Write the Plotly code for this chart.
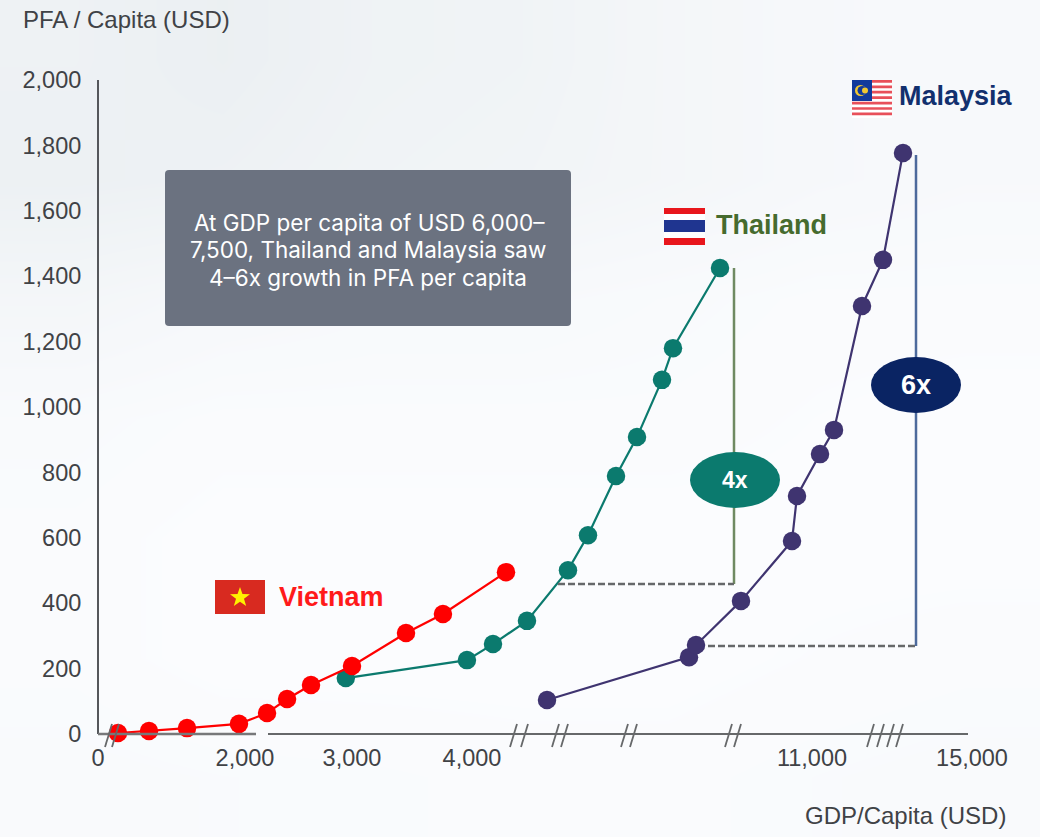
import numpy as np
import plotly.graph_objects as go

# Broken GDP axis: tick values and where each one sits along the axis
tick_usd = [0, 2000, 3000, 4000, 11000, 15000]
tick_labels = ["0", "2,000", "3,000", "4,000", "11,000", "15,000"]
tick_axis_pos = [0, 147, 254, 374, 714, 874]

pfa_ticks = [0, 200, 400, 600, 800, 1000, 1200, 1400, 1600, 1800, 2000]
pfa_labels = ["0", "200", "400", "600", "800", "1,000", "1,200", "1,400", "1,600", "1,800", "2,000"]

vietnam_gdp = [272, 694, 1211, 1918, 2206, 2393, 2617, 3000, 3450, 3758, 4700]
vietnam_pfa = [3, 9, 18, 31, 64, 107, 150, 208, 309, 367, 495]

thailand_gdp = [2942, 3958, 4432, 5132, 5976, 6388, 6965, 7397, 7912, 8138, 9106]
thailand_pfa = [171, 226, 275, 346, 501, 608, 789, 908, 1083, 1180, 1425]

malaysia_gdp = [5544, 8468, 8612, 9538, 10588, 10691, 11200, 11550, 12250, 12775, 13275]
malaysia_pfa = [104, 235, 272, 407, 590, 728, 856, 930, 1309, 1450, 1777]

# Pale backdrop wash, top row first
backdrop_shade = [
    [0.45, 0.35, 0.50, 0.55, 0.70, 0.80, 0.85],
    [0.40, 0.45, 0.55, 0.60, 0.70, 0.80, 0.85],
    [0.70, 0.80, 0.85, 0.85, 0.90, 0.95, 0.95],
    [0.90, 0.95, 0.95, 0.95, 0.95, 0.98, 1.00],
    [0.95, 1.00, 1.00, 1.00, 1.00, 1.00, 1.00],
    [0.95, 1.00, 1.00, 1.00, 1.00, 0.97, 0.95],
    [0.90, 0.92, 0.93, 0.95, 0.95, 0.92, 0.90],
]

W, H = 1040, 837
L, R, T, B = 98, 972, 80, 734
INK = "#404246"


def axis_pos(usd):
    """Map a GDP per capita value onto the broken horizontal axis."""
    return np.interp(usd, tick_usd, tick_axis_pos)


def fx(px):
    return px / W


def fy(py):
    return 1 - py / H


def segment(x0, y0, x1, y1, color, width, dash="solid"):
    return dict(type="line", xref="paper", yref="paper", x0=fx(x0), y0=fy(y0), x1=fx(x1), y1=fy(y1),
                line=dict(color=color, width=width, dash=dash))


def box(x0, y0, x1, y1, color):
    return dict(type="rect", xref="paper", yref="paper", x0=fx(x0), y0=fy(y0), x1=fx(x1), y1=fy(y1),
                fillcolor=color, line=dict(width=0), layer="above")


def label(px, py, text, size, color, anchor="center", bold=False, family="Liberation Sans"):
    return dict(xref="paper", yref="paper", x=fx(px), y=fy(py), text=f"<b>{text}</b>" if bold else text,
                showarrow=False, xanchor=anchor, yanchor="middle",
                font=dict(size=size, color=color, family=family))


fig = go.Figure()

# The wash sits on a full-page hidden axis pair underneath the chart axes
fig.add_trace(go.Heatmap(z=backdrop_shade[::-1], zmin=0, zmax=1, zsmooth="best", showscale=False, hoverinfo="skip",
                         colorscale=[[0, "#e3e9ec"], [1, "#fbfcfe"]]))

series = [
    ("Malaysia", malaysia_gdp, malaysia_pfa, "#3f3470"),
    ("Thailand", thailand_gdp, thailand_pfa, "#0b7a6e"),
    ("Vietnam", vietnam_gdp, vietnam_pfa, "#ff0000"),
]
for name, gdp, pfa, color in series:
    fig.add_trace(go.Scatter(
        x=axis_pos(gdp), y=pfa, name=name, mode="lines+markers", cliponaxis=False, xaxis="x2", yaxis="y2",
        line=dict(color=color, width=2.2), marker=dict(size=18.5, color=color),
    ))

shapes = []

# Rounded callout panel
x0, y0, x1, y1, r = fx(165), fy(170), fx(571), fy(326), 4
rx, ry = r / W, r / H
shapes.append(dict(
    type="path", xref="paper", yref="paper", fillcolor="#6b7280", line=dict(width=0), layer="above",
    path=(f"M {x0+rx} {y0} L {x1-rx} {y0} Q {x1} {y0} {x1} {y0-ry} L {x1} {y1+ry} Q {x1} {y1} {x1-rx} {y1} "
          f"L {x0+rx} {y1} Q {x0} {y1} {x0} {y1+ry} L {x0} {y0-ry} Q {x0} {y0} {x0+rx} {y0} Z"),
))

# Axis lines with the breaks along the GDP axis
shapes.append(segment(98, 80, 98, 734, "#55575b", 2))
shapes.append(segment(98, 734, 256, 734, "#77787a", 2.5))
shapes.append(segment(268, 734, 968, 734, "#66686a", 2))
for sx in [105, 112, 510, 521, 552, 561, 621, 630, 725, 734, 867, 877, 887, 896]:
    shapes.append(segment(sx, 747, sx + 7, 724, "#66686a", 1.8))

# Growth brackets for Thailand and Malaysia
shapes.append(segment(734, 268, 734, 584, "#6f8a62", 2.5))
shapes.append(segment(558, 584, 734, 584, "#66686a", 2.5, "7px,3px"))
shapes.append(segment(916, 155, 916, 646, "#4d6a9c", 2.5))
shapes.append(segment(708, 646, 916, 646, "#66686a", 2.5, "7px,3px"))

for cx, cy, color in [(735, 480, "#0b7a6e"), (916, 385, "#0a2463")]:
    shapes.append(dict(type="circle", xref="paper", yref="paper", x0=fx(cx - 45), x1=fx(cx + 45),
                       y0=fy(cy + 28), y1=fy(cy - 28), fillcolor=color, line=dict(width=0), layer="above"))

# Vietnam flag
shapes.append(box(215, 580, 265, 614, "#d82a20"))
star = []
for i in range(10):
    rad = 10.5 if i % 2 == 0 else 4.2
    ang = -np.pi / 2 + i * np.pi / 5
    star.append((fx(240 + rad * np.cos(ang)), fy(597.5 + rad * np.sin(ang))))
shapes.append(dict(type="path", xref="paper", yref="paper", fillcolor="#fff200", line=dict(width=0), layer="above",
                   path="M " + " L ".join(f"{a} {b}" for a, b in star) + " Z"))

# Thailand flag
for top, bottom, color in [(208, 214, "#e8161c"), (214, 220, "#ffffff"), (220, 232, "#1f3590"),
                           (232, 238, "#ffffff"), (238, 245, "#e8161c")]:
    shapes.append(box(664, top, 705, bottom, color))

# Malaysia flag
shapes.append(box(852, 80, 892, 118, "#ffffff"))
for i in range(7):
    top = 80 + i * 38 / 7
    shapes.append(box(852, top, 892, top + 19 / 7, "#e8505a"))
shapes.append(box(852, 80, 872, 101, "#123a9c"))
shapes.append(dict(type="circle", xref="paper", yref="paper", x0=fx(855), x1=fx(866), y0=fy(96), y1=fy(85),
                   fillcolor="#f2c832", line=dict(width=0), layer="above"))
shapes.append(dict(type="circle", xref="paper", yref="paper", x0=fx(857.5), x1=fx(867), y0=fy(95), y1=fy(86),
                   fillcolor="#123a9c", line=dict(width=0), layer="above"))
shapes.append(dict(type="circle", xref="paper", yref="paper", x0=fx(862), x1=fx(868), y0=fy(93.5), y1=fy(87.5),
                   fillcolor="#f2c832", line=dict(width=0), layer="above"))

annotations = [
    label(21, 19, "PFA / Capita (USD)", 24, INK, "left"),
    label(1008, 815, "GDP/Capita (USD)", 24, INK, "right"),
    label(369, 222, "At GDP per capita of USD 6,000–", 22.5, "#ffffff", family="Inter"),
    label(368, 249, "7,500, Thailand and Malaysia saw", 22.5, "#ffffff", family="Inter"),
    label(368, 277, "4–6x growth in PFA per capita", 22.5, "#ffffff", family="Inter"),
    label(897, 96, "Malaysia", 27, "#12306e", "left", True),
    label(714, 225, "Thailand", 27, "#466b2e", "left", True),
    label(277, 597, "Vietnam", 27, "#ff1a1a", "left", True),
    label(735, 480, "4x", 23, "#ffffff", bold=True),
    label(916, 385, "6x", 27, "#ffffff", bold=True),
]

fig.update_layout(
    width=W, height=H, margin=dict(l=0, r=0, t=0, b=0, pad=0, autoexpand=False),
    plot_bgcolor="rgba(0,0,0,0)", paper_bgcolor="#f9fafc", showlegend=False,
    font=dict(family="Liberation Sans", size=23.5, color=INK),
    shapes=shapes, annotations=annotations,
    xaxis=dict(visible=False, domain=[0, 1], range=[-0.5, 6.5], automargin=False),
    yaxis=dict(visible=False, domain=[0, 1], range=[-0.5, 6.5], automargin=False),
    xaxis2=dict(domain=[L / W, R / W], anchor="y2", range=[0, 874], tickmode="array", tickvals=tick_axis_pos,
                ticktext=tick_labels, showgrid=False, zeroline=False, showline=False, ticks="outside",
                ticklen=3, tickcolor="rgba(0,0,0,0)", automargin=False),
    yaxis2=dict(domain=[1 - B / H, 1 - T / H], anchor="x2", range=[0, 2000], tickmode="array", tickvals=pfa_ticks,
                ticktext=pfa_labels, showgrid=False, zeroline=False, showline=False, ticks="outside",
                ticklen=11, tickcolor="rgba(0,0,0,0)", automargin=False),
)
fig.write_html("out.html")
